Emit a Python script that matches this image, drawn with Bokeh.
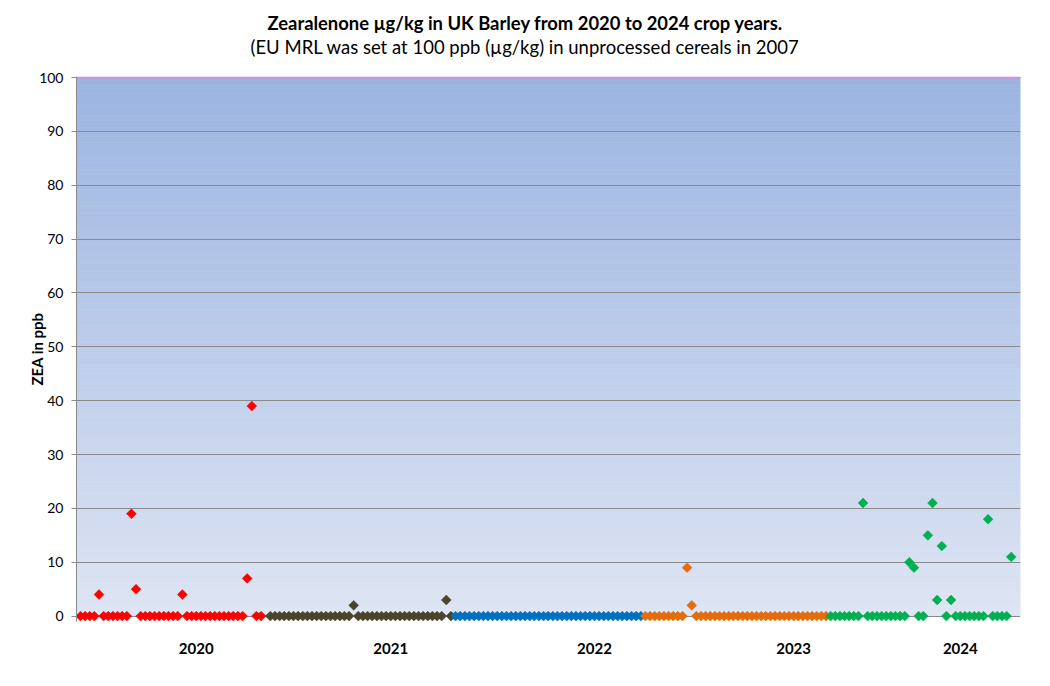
import numpy as np
from bokeh.plotting import figure
from bokeh.models import Range1d, FixedTicker, Title, Span
from bokeh.embed import file_html
from bokeh.resources import INLINE

# ---------------- data ----------------
years = ["2020", "2021", "2022", "2023", "2024"]
year_label_pos = [25, 67, 111, 154, 190]          # sample-index position of each year label

zea_2020 = [0, 0, 0, 0, 4, 0, 0, 0, 0, 0, 0, 19, 5, 0, 0, 0, 0, 0, 0, 0,
            0, 0, 4, 0, 0, 0, 0, 0, 0, 0, 0, 0, 0, 0, 0, 0, 7, 39, 0, 0]
zea_2021 = [0, 0, 0, 0, 0, 0, 0, 0, 0, 0, 0, 0, 0, 0, 0, 0, 0, 0, 2, 0,
            0, 0, 0, 0, 0, 0, 0, 0, 0, 0, 0, 0, 0, 0, 0, 0, 0, 0, 3, 0]
zea_2022 = [0, 0, 0, 0, 0, 0, 0, 0, 0, 0, 0, 0, 0, 0, 0, 0, 0, 0, 0, 0,
            0, 0, 0, 0, 0, 0, 0, 0, 0, 0, 0, 0, 0, 0, 0, 0, 0, 0, 0, 0, 0]
zea_2023 = [0, 0, 0, 0, 0, 0, 0, 0, 0, 9, 2, 0, 0, 0, 0, 0, 0, 0, 0, 0,
            0, 0, 0, 0, 0, 0, 0, 0, 0, 0, 0, 0, 0, 0, 0, 0, 0, 0, 0, 0]
zea_2024 = [0, 0, 0, 0, 0, 0, 0, 21, 0, 0, 0, 0, 0, 0, 0, 0, 0, 10, 9, 0,
            0, 15, 21, 3, 13, 0, 3, 0, 0, 0, 0, 0, 0, 0, 18, 0, 0, 0, 0, 11]
series_values = [zea_2020, zea_2021, zea_2022, zea_2023, zea_2024]
series_start = [0, 41, 81, 122, 162]               # first sample index of each crop year
series_colors = ["#FF0000", "#4A452A", "#0070C0", "#E46C0A", "#00B050"]

y_ticks = [0, 10, 20, 30, 40, 50, 60, 70, 80, 90, 100]
mrl = 100

title_text = "Zearalenone \u00b5g/kg in UK Barley from 2020 to 2024 crop years."
subtitle_text = "(EU MRL was set at 100 ppb (\u00b5g/kg) in unprocessed cereals in 2007"

FONT = "Lato"

X0, X1 = -0.86, 203.0
Y0, Y1 = -1.0, 100.2

p = figure(width=1042, height=668, output_backend="svg", toolbar_location=None,
           x_range=Range1d(X0, X1), y_range=Range1d(Y0, Y1),
           min_border_left=76, min_border_right=22, min_border_top=76,
           min_border_bottom=47, background_fill_color="white",
           border_fill_color="white", outline_line_color=None)

# titles (subtitle first so it sits nearer to the frame)
p.add_layout(Title(text=subtitle_text, text_font=FONT, text_font_size="18.5px",
                   text_font_style="normal", text_color="black",
                   align="left", offset=174, standoff=38), "above")
p.add_layout(Title(text=title_text, text_font=FONT, text_font_size="18.4px",
                   text_font_style="bold", text_color="black",
                   align="left", offset=191, standoff=-39), "above")

# gradient plot-area background (style only)
edges = np.linspace(0, 100, 101)
top_rgb = np.array([155, 180, 225])
bot_rgb = np.array([222, 229, 243])
mid = (edges[:-1] + edges[1:]) / 200.0
grad_cols = ["#%02x%02x%02x" % tuple(int(round(v)) for v in (bot_rgb + (top_rgb - bot_rgb) * t))
             for t in mid]
p.quad(left=X0, right=X1, bottom=edges[:-1], top=edges[1:], fill_color=grad_cols,
       line_color=grad_cols, line_width=0.6, level="image")

# grid & axes
p.xgrid.visible = False
p.ygrid.ticker = FixedTicker(ticks=y_ticks)
p.ygrid.grid_line_color = "#8a8a8a"
p.ygrid.grid_line_width = 1

p.yaxis.ticker = FixedTicker(ticks=y_ticks)
p.yaxis.axis_line_color = "#8a8a8a"
p.yaxis.major_tick_line_color = "#8a8a8a"
p.yaxis.major_tick_out = 5
p.yaxis.major_tick_in = 0
p.yaxis.minor_tick_line_color = None
p.yaxis.major_label_standoff = 8
p.yaxis.major_label_text_font = FONT
p.yaxis.major_label_text_font_size = "14px"
p.yaxis.major_label_text_color = "black"
p.yaxis.axis_label = "ZEA in ppb"
p.yaxis.axis_label_text_font = FONT
p.yaxis.axis_label_text_font_size = "15px"
p.yaxis.axis_label_text_font_style = "bold"
p.yaxis.axis_label_text_color = "black"
p.yaxis.axis_label_standoff = -10

p.xaxis.ticker = FixedTicker(ticks=year_label_pos)
p.xaxis.major_label_overrides = {pos: yr for pos, yr in zip(year_label_pos, years)}
p.xaxis.axis_line_color = None
p.xaxis.major_tick_line_color = None
p.xaxis.major_tick_out = 0
p.xaxis.major_tick_in = 0
p.xaxis.minor_tick_line_color = None
p.xaxis.major_label_standoff = 21
p.xaxis.major_label_text_font = FONT
p.xaxis.major_label_text_font_size = "15px"
p.xaxis.major_label_text_font_style = "bold"
p.xaxis.major_label_text_color = "black"

# MRL line at 100
p.add_layout(Span(location=mrl, dimension="width", line_color="#DE88DE", line_width=2))

# data points
for vals, start, col in zip(series_values, series_start, series_colors):
    xs = list(range(start, start + len(vals)))
    p.scatter(xs, vals, marker="square", angle=np.pi / 4, size=7,
              fill_color=col, line_color=col, line_width=0.5)

open("out.html", "w").write(file_html(p, INLINE))
